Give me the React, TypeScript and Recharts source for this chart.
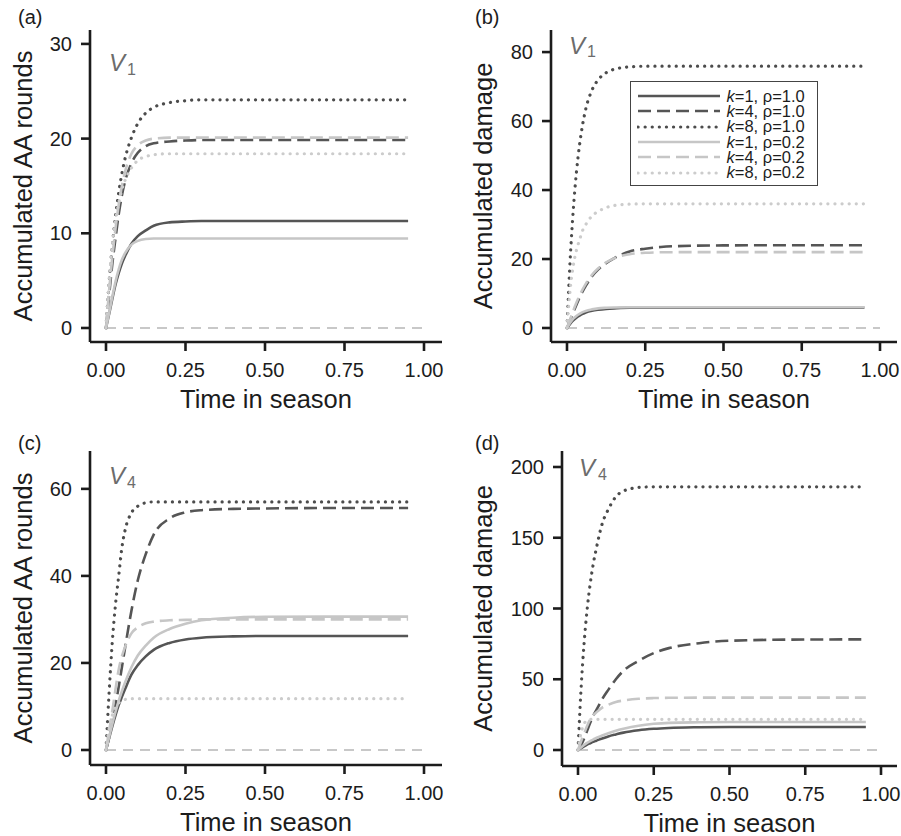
import React from 'react';
import { LineChart, Line, XAxis, YAxis, Legend } from 'recharts';

const FONT = '"Liberation Sans", Arial, Helvetica, sans-serif';
const INK = '#1c1c1c';
const DARK = '#555555';
const LIGHT = '#c6c6c6';

// time points (all series end at t = 0.95)
const T = [0, 0.01, 0.02, 0.03, 0.04, 0.05, 0.06, 0.08, 0.1, 0.125, 0.15, 0.2, 0.25, 0.3, 0.4, 0.5, 0.7, 0.95];

// (a) V1, accumulated AA rounds
const aK1R10 = [0, 1.5, 3.1, 4.6, 5.8, 6.8, 7.6, 8.9, 9.7, 10.3, 10.8, 11.15, 11.25, 11.3, 11.3, 11.3, 11.3, 11.3];
const aK4R10 = [0, 3.5, 6.8, 9.5, 12, 14, 15.5, 17.4, 18.5, 19.2, 19.5, 19.7, 19.8, 19.85, 19.85, 19.85, 19.85, 19.85];
const aK8R10 = [0, 4.9, 8.7, 11.8, 14.3, 16.3, 17.9, 20.1, 21.6, 22.7, 23.3, 23.8, 24.0, 24.1, 24.1, 24.1, 24.1, 24.1];
const aK1R02 = [0, 1.6, 3.3, 4.9, 6.2, 7.2, 7.9, 8.8, 9.2, 9.4, 9.45, 9.45, 9.45, 9.45, 9.45, 9.45, 9.45, 9.45];
const aK4R02 = [0, 4, 7.5, 10.5, 13, 15, 16.5, 18.4, 19.3, 19.8, 20.0, 20.1, 20.1, 20.1, 20.1, 20.1, 20.1, 20.1];
const aK8R02 = [0, 5, 8.8, 11.3, 13.2, 14.6, 15.6, 16.9, 17.7, 18.1, 18.3, 18.4, 18.4, 18.4, 18.4, 18.4, 18.4, 18.4];

// (b) V1, accumulated damage
const bK1R10 = [0, 1.2, 2.2, 3.0, 3.6, 4.1, 4.5, 5.0, 5.3, 5.55, 5.7, 5.85, 5.9, 5.9, 5.9, 5.9, 5.9, 5.9];
const bK4R10 = [0, 2.2, 4.5, 6.7, 8.8, 10.6, 12.2, 15, 17, 18.8, 20.2, 22.2, 23, 23.5, 23.85, 23.95, 24, 24];
const bK8R10 = [0, 19.7, 34.1, 45, 53, 59, 63.5, 69, 72, 74, 75, 75.7, 75.9, 75.9, 75.9, 75.9, 75.9, 75.9];
const bK1R02 = [0, 1.5, 2.7, 3.5, 4.1, 4.6, 4.95, 5.4, 5.7, 5.85, 5.95, 6.0, 6.0, 6.0, 6.0, 6.0, 6.0, 6.0];
const bK4R02 = [0, 2.5, 5, 7.3, 9.4, 11.2, 12.8, 15.4, 17.3, 19, 20.2, 21.4, 21.8, 21.95, 22, 22, 22, 22];
const bK8R02 = [0, 11, 18, 22.5, 25.5, 28.3, 30, 32.5, 33.8, 34.9, 35.5, 35.9, 36, 36, 36, 36, 36, 36];

// (c) V4, accumulated AA rounds
const cK1R10 = [0, 2.8, 5.5, 8, 10.3, 12.2, 14, 17.3, 19.5, 21.5, 23, 24.6, 25.4, 25.8, 26.1, 26.2, 26.2, 26.2];
const cK4R10 = [0, 3, 6.5, 10.5, 14.5, 19, 23.5, 32, 39, 45, 49.5, 53.2, 54.6, 55.1, 55.4, 55.5, 55.6, 55.6];
const cK8R10 = [0, 13.5, 25, 33.5, 40, 46.5, 50.5, 54.5, 56, 56.8, 57, 57, 57, 57, 57, 57, 57, 57];
const cK1R02 = [0, 3, 6, 8.8, 11.3, 13.5, 15.5, 19, 21.7, 24, 25.8, 27.8, 29, 29.8, 30.4, 30.6, 30.65, 30.65];
const cK4R02 = [0, 4.5, 9, 14, 18.5, 21.5, 23.7, 26.8, 28.2, 29.1, 29.5, 29.8, 29.9, 30, 30, 30, 30, 30];
const cK8R02 = [0, 5, 8, 9.8, 10.8, 11.3, 11.6, 11.8, 11.8, 11.8, 11.8, 11.8, 11.8, 11.8, 11.8, 11.8, 11.8, 11.8];

// (d) V4, accumulated damage
const dK1R10 = [0, 1.3, 2.6, 3.8, 4.8, 5.8, 6.6, 8.2, 9.6, 11, 12.3, 14, 15, 15.6, 16.1, 16.3, 16.3, 16.3];
const dK4R10 = [0, 3.5, 8, 13.5, 19, 24, 28, 36, 42.5, 50, 56, 63, 68.5, 72, 75.5, 77.2, 78, 78.2];
const dK8R10 = [0, 43, 75, 99, 117, 131, 142, 160, 170, 179, 183, 185.5, 186, 186, 186, 186, 186, 186];
const dK1R02 = [0, 1.8, 3.5, 5, 6.3, 7.4, 8.5, 10.2, 11.8, 13.6, 15, 17.2, 18.5, 19.2, 19.6, 19.8, 19.8, 19.8];
const dK4R02 = [0, 6, 11.5, 17, 21.5, 24.5, 26.5, 30, 32, 34, 35, 36.2, 36.7, 36.9, 37, 37, 37, 37];
const dK8R02 = [0, 12, 18.5, 21, 21.6, 21.7, 21.7, 21.7, 21.7, 21.7, 21.7, 21.7, 21.7, 21.7, 21.7, 21.7, 21.7, 21.7];

// grey dashed zero reference, runs to t = 1
const ZERO_T = [0, 1];
const ZERO_V = [0, 0];

const X_TICKS = [0, 0.25, 0.5, 0.75, 1];

const SERIES = [
  { key: 's0', k: '1', rho: '1.0', color: DARK, dash: undefined, width: 2.6 },
  { key: 's1', k: '4', rho: '1.0', color: DARK, dash: '13 6', width: 2.6 },
  { key: 's2', k: '8', rho: '1.0', color: '#4c4c4c', dash: '0.1 7', width: 3.2 },
  { key: 's3', k: '1', rho: '0.2', color: LIGHT, dash: undefined, width: 2.6 },
  { key: 's4', k: '4', rho: '0.2', color: LIGHT, dash: '13 6', width: 2.6 },
  { key: 's5', k: '8', rho: '0.2', color: '#cccccc', dash: '0.1 7', width: 3.2 },
];

const toRows = (cols: number[][]) =>
  T.map((t, i) => {
    const row: Record<string, number> = { t };
    cols.forEach((c, j) => (row['s' + j] = c[i]));
    return row;
  });

const zeroRows = ZERO_T.map((t, i) => ({ t, v: ZERO_V[i] }));

const Y_W = 70;
const X_H = 40;

function LegendBox() {
  return (
    <div
      style={{
        width: 188,
        height: 105,
        boxSizing: 'border-box',
        border: '1.5px solid #444',
        background: '#fff',
        paddingTop: 6.5,
        paddingLeft: 5.5,
        fontFamily: FONT,
        fontSize: 16.5,
        color: INK,
      }}
    >
      {SERIES.map((s) => (
        <div key={s.key} style={{ height: 15.3, display: 'flex', alignItems: 'center', whiteSpace: 'nowrap' }}>
          <svg width={84} height={8} style={{ flex: 'none' }}>
            <line
              x1={1}
              y1={4}
              x2={83}
              y2={4}
              stroke={s.color}
              strokeWidth={s.width}
              strokeDasharray={s.dash}
              strokeLinecap={s.dash && s.dash.startsWith('0.1') ? 'round' : 'butt'}
            />
          </svg>
          <span style={{ marginLeft: 6, lineHeight: 0.9 }}>
            <i>k</i>={s.k}, ρ={s.rho}
          </span>
        </div>
      ))}
    </div>
  );
}

interface PanelProps {
  left: number;
  top: number;
  w: number;
  h: number;
  plot: { l: number; t: number; r: number; b: number };
  xDomain: [number, number];
  yDomain: [number, number];
  yTicks: number[];
  yLabel: string;
  labelX: number;
  cols: number[][];
  legend?: boolean;
}

function Panel({ left, top, w, h, plot, xDomain, yDomain, yTicks, yLabel, labelX, cols, legend }: PanelProps) {
  const rows = toRows(cols);
  const margin = { top: plot.t, left: plot.l - Y_W, right: w - plot.r, bottom: h - plot.b - X_H };
  const axisLine = { stroke: INK, strokeWidth: 2.6 };
  const tick = { fontSize: 20, fill: INK, fontFamily: FONT };
  return (
    <div style={{ position: 'absolute', left, top }}>
      <LineChart width={w} height={h} margin={margin}>
        <XAxis
          type="number"
          dataKey="t"
          domain={xDomain}
          allowDataOverflow
          ticks={X_TICKS}
          interval={0}
          tickFormatter={(v: number) => v.toFixed(2)}
          axisLine={axisLine}
          tickLine={axisLine}
          tickSize={9}
          tickMargin={12}
          tick={tick}
          height={X_H}
          label={{ value: 'Time in season', position: 'bottom', offset: 8, fontSize: 25.5, fill: INK, fontFamily: FONT }}
        />
        <YAxis
          type="number"
          domain={yDomain}
          allowDataOverflow
          ticks={yTicks}
          interval={0}
          axisLine={axisLine}
          tickLine={axisLine}
          tickSize={9}
          tickMargin={9}
          tick={tick}
          width={Y_W}
          label={{
            value: yLabel,
            angle: -90,
            position: 'insideLeft',
            offset: labelX - margin.left,
            fontSize: 25.5,
            fill: INK,
            fontFamily: FONT,
            style: { textAnchor: 'middle' },
          }}
        />
        <Line
          data={zeroRows}
          dataKey="v"
          stroke="#c8c8c8"
          strokeWidth={2}
          strokeDasharray="10 7"
          dot={false}
          isAnimationActive={false}
          legendType="none"
        />
        {SERIES.map((s) => (
          <Line
            key={s.key}
            data={rows}
            dataKey={s.key}
            type="monotone"
            stroke={s.color}
            strokeWidth={s.width}
            strokeDasharray={s.dash}
            strokeLinecap={s.dash && s.dash.startsWith('0.1') ? 'round' : 'butt'}
            dot={false}
            isAnimationActive={false}
          />
        ))}
        {legend && (
          <Legend
            layout="vertical"
            align="center"
            verticalAlign="middle"
            content={() => <LegendBox />}
            wrapperStyle={{ position: 'absolute', left: 180, top: 81, right: 'auto', bottom: 'auto', width: 188, height: 105 }}
          />
        )}
      </LineChart>
    </div>
  );
}

function Annotations() {
  const letter = { fontSize: 20, fill: INK, fontFamily: FONT };
  const vStyle = { fontSize: 24, fill: '#6c6c6c', fontFamily: FONT, fontStyle: 'italic' as const };
  const sub = { fontSize: 16, fill: '#6c6c6c', fontFamily: FONT };
  return (
    <svg width={901} height={836} style={{ position: 'absolute', left: 0, top: 0, pointerEvents: 'none' }}>
      <text x={18} y={24} {...letter}>(a)</text>
      <text x={475} y={24} {...letter}>(b)</text>
      <text x={18} y={450} {...letter}>(c)</text>
      <text x={475} y={450} {...letter}>(d)</text>
      <text x={109} y={71} {...vStyle}>V</text>
      <text x={127} y={75} {...sub}>1</text>
      <text x={569} y={54} {...vStyle}>V</text>
      <text x={587} y={57} {...sub}>1</text>
      <text x={109} y={484} {...vStyle}>V</text>
      <text x={127} y={488} {...sub}>4</text>
      <text x={579} y={476} {...vStyle}>V</text>
      <text x={598} y={480} {...sub}>4</text>
    </svg>
  );
}

export default function App() {
  return (
    <div style={{ position: 'absolute', left: 0, top: 0, width: 901, height: 836, background: '#fff' }}>
      <Panel
        left={0}
        top={0}
        w={450}
        h={418}
        plot={{ l: 90, t: 30, r: 442, b: 342 }}
        xDomain={[-0.0503, 1.0566]}
        yDomain={[-1.48, 31.47]}
        yTicks={[0, 10, 20, 30]}
        yLabel="Accumulated AA rounds"
        labelX={23}
        cols={[aK1R10, aK4R10, aK8R10, aK1R02, aK4R02, aK8R02]}
      />
      <Panel
        left={450}
        top={0}
        w={451}
        h={418}
        plot={{ l: 101, t: 30, r: 447, b: 342 }}
        xDomain={[-0.0511, 1.0543]}
        yDomain={[-4.06, 86.4]}
        yTicks={[0, 20, 40, 60, 80]}
        yLabel="Accumulated damage"
        labelX={33}
        cols={[bK1R10, bK4R10, bK8R10, bK1R02, bK4R02, bK8R02]}
        legend
      />
      <Panel
        left={0}
        top={418}
        w={450}
        h={418}
        plot={{ l: 90, t: 33, r: 442, b: 347 }}
        xDomain={[-0.0503, 1.0566]}
        yDomain={[-3.45, 68.7]}
        yTicks={[0, 20, 40, 60]}
        yLabel="Accumulated AA rounds"
        labelX={23}
        cols={[cK1R10, cK4R10, cK8R10, cK1R02, cK4R02, cK8R02]}
      />
      <Panel
        left={450}
        top={418}
        w={451}
        h={418}
        plot={{ l: 112, t: 33, r: 447, b: 348 }}
        xDomain={[-0.0528, 1.0528]}
        yDomain={[-11.3, 211.3]}
        yTicks={[0, 50, 100, 150, 200]}
        yLabel="Accumulated damage"
        labelX={33}
        cols={[dK1R10, dK4R10, dK8R10, dK1R02, dK4R02, dK8R02]}
      />
      <Annotations />
    </div>
  );
}
